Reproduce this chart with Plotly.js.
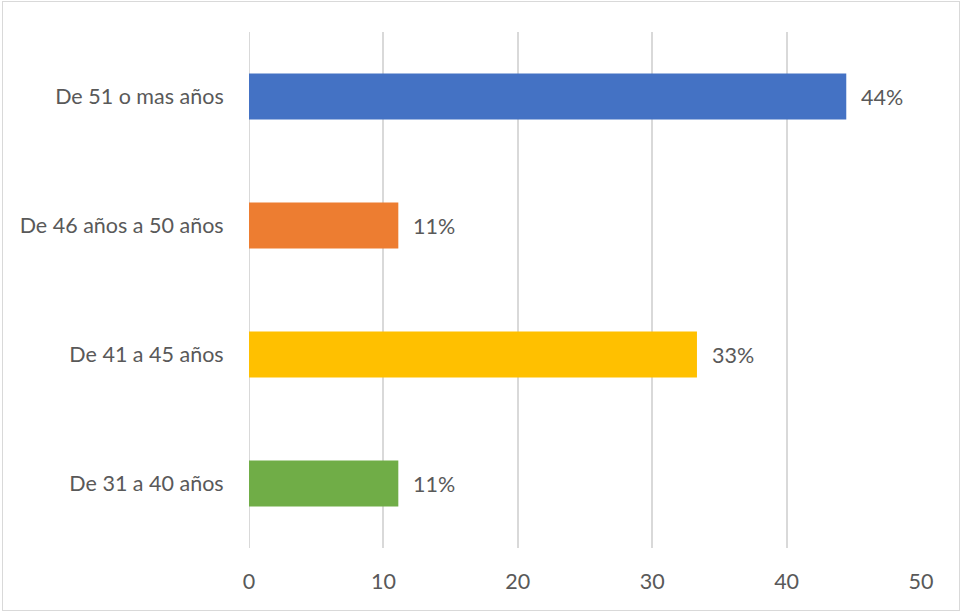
<!DOCTYPE html>
<html>
<head>
<meta charset="utf-8">
<script src="https://cdn.plot.ly/plotly-3.0.1.min.js"></script>
<style>
  html, body { margin: 0; padding: 0; background: #fff; }
  #chart { width: 961px; height: 612px; position: relative; }
  #frame { position: absolute; left: 2px; top: 1px; width: 956px; height: 608px;
           border: 1px solid #d9d9d9; pointer-events: none; }
</style>
</head>
<body>
<div id="chart"></div>
<div id="frame"></div>
<script>
const categories = ["De 31 a 40 años", "De 41 a 45 años", "De 46 años a 50 años", "De 51 o mas años"];
const values = [11.11, 33.33, 11.11, 44.44];
const valueLabels = ["11%", "33%", "11%", "44%"];
const barColors = ["#70AD47", "#FFC000", "#ED7D31", "#4472C4"];
const xTicks = [0, 10, 20, 30, 40, 50];

const FONT = "Lato, 'Open Sans', sans-serif";
const TXT = "#595959";
const FS = 21.5;

const trace = {
  type: "bar",
  orientation: "h",
  y: categories,
  x: values,
  marker: { color: barColors },
  width: 0.356,
  hoverinfo: "none"
};

const annotations = categories.map((c, i) => ({
  x: values[i], y: c, xref: "x", yref: "y",
  text: valueLabels[i], showarrow: false,
  xanchor: "left", xshift: 13,
  font: { family: FONT, size: FS, color: TXT }
}));

const layout = {
  width: 961, height: 612,
  margin: { l: 249, r: 40, t: 32, b: 64, pad: 0 },
  paper_bgcolor: "#fff", plot_bgcolor: "#fff",
  showlegend: false,
  font: { family: FONT, size: FS, color: TXT },
  xaxis: {
    range: [0, 50], tickvals: xTicks, ticktext: xTicks.map(String),
    showgrid: true, gridcolor: "#d9d9d9", gridwidth: 2,
    zeroline: false, showline: false,
    ticks: "outside", ticklen: 14, tickcolor: "rgba(0,0,0,0)",
    tickfont: { family: FONT, size: FS, color: TXT },
    fixedrange: true
  },
  yaxis: {
    categoryorder: "array", categoryarray: categories,
    showgrid: false, zeroline: false, showline: false,
    ticks: "outside", ticklen: 20, tickcolor: "rgba(0,0,0,0)",
    tickfont: { family: FONT, size: FS, color: TXT },
    fixedrange: true
  },
  shapes: [{
    type: "line", xref: "x", yref: "paper", x0: 0, x1: 0, y0: 0, y1: 1,
    line: { color: "#d9d9d9", width: 2 }, layer: "below"
  }],
  annotations: annotations
};

Plotly.newPlot("chart", [trace], layout, { displayModeBar: false, staticPlot: true });
</script>
</body>
</html>
